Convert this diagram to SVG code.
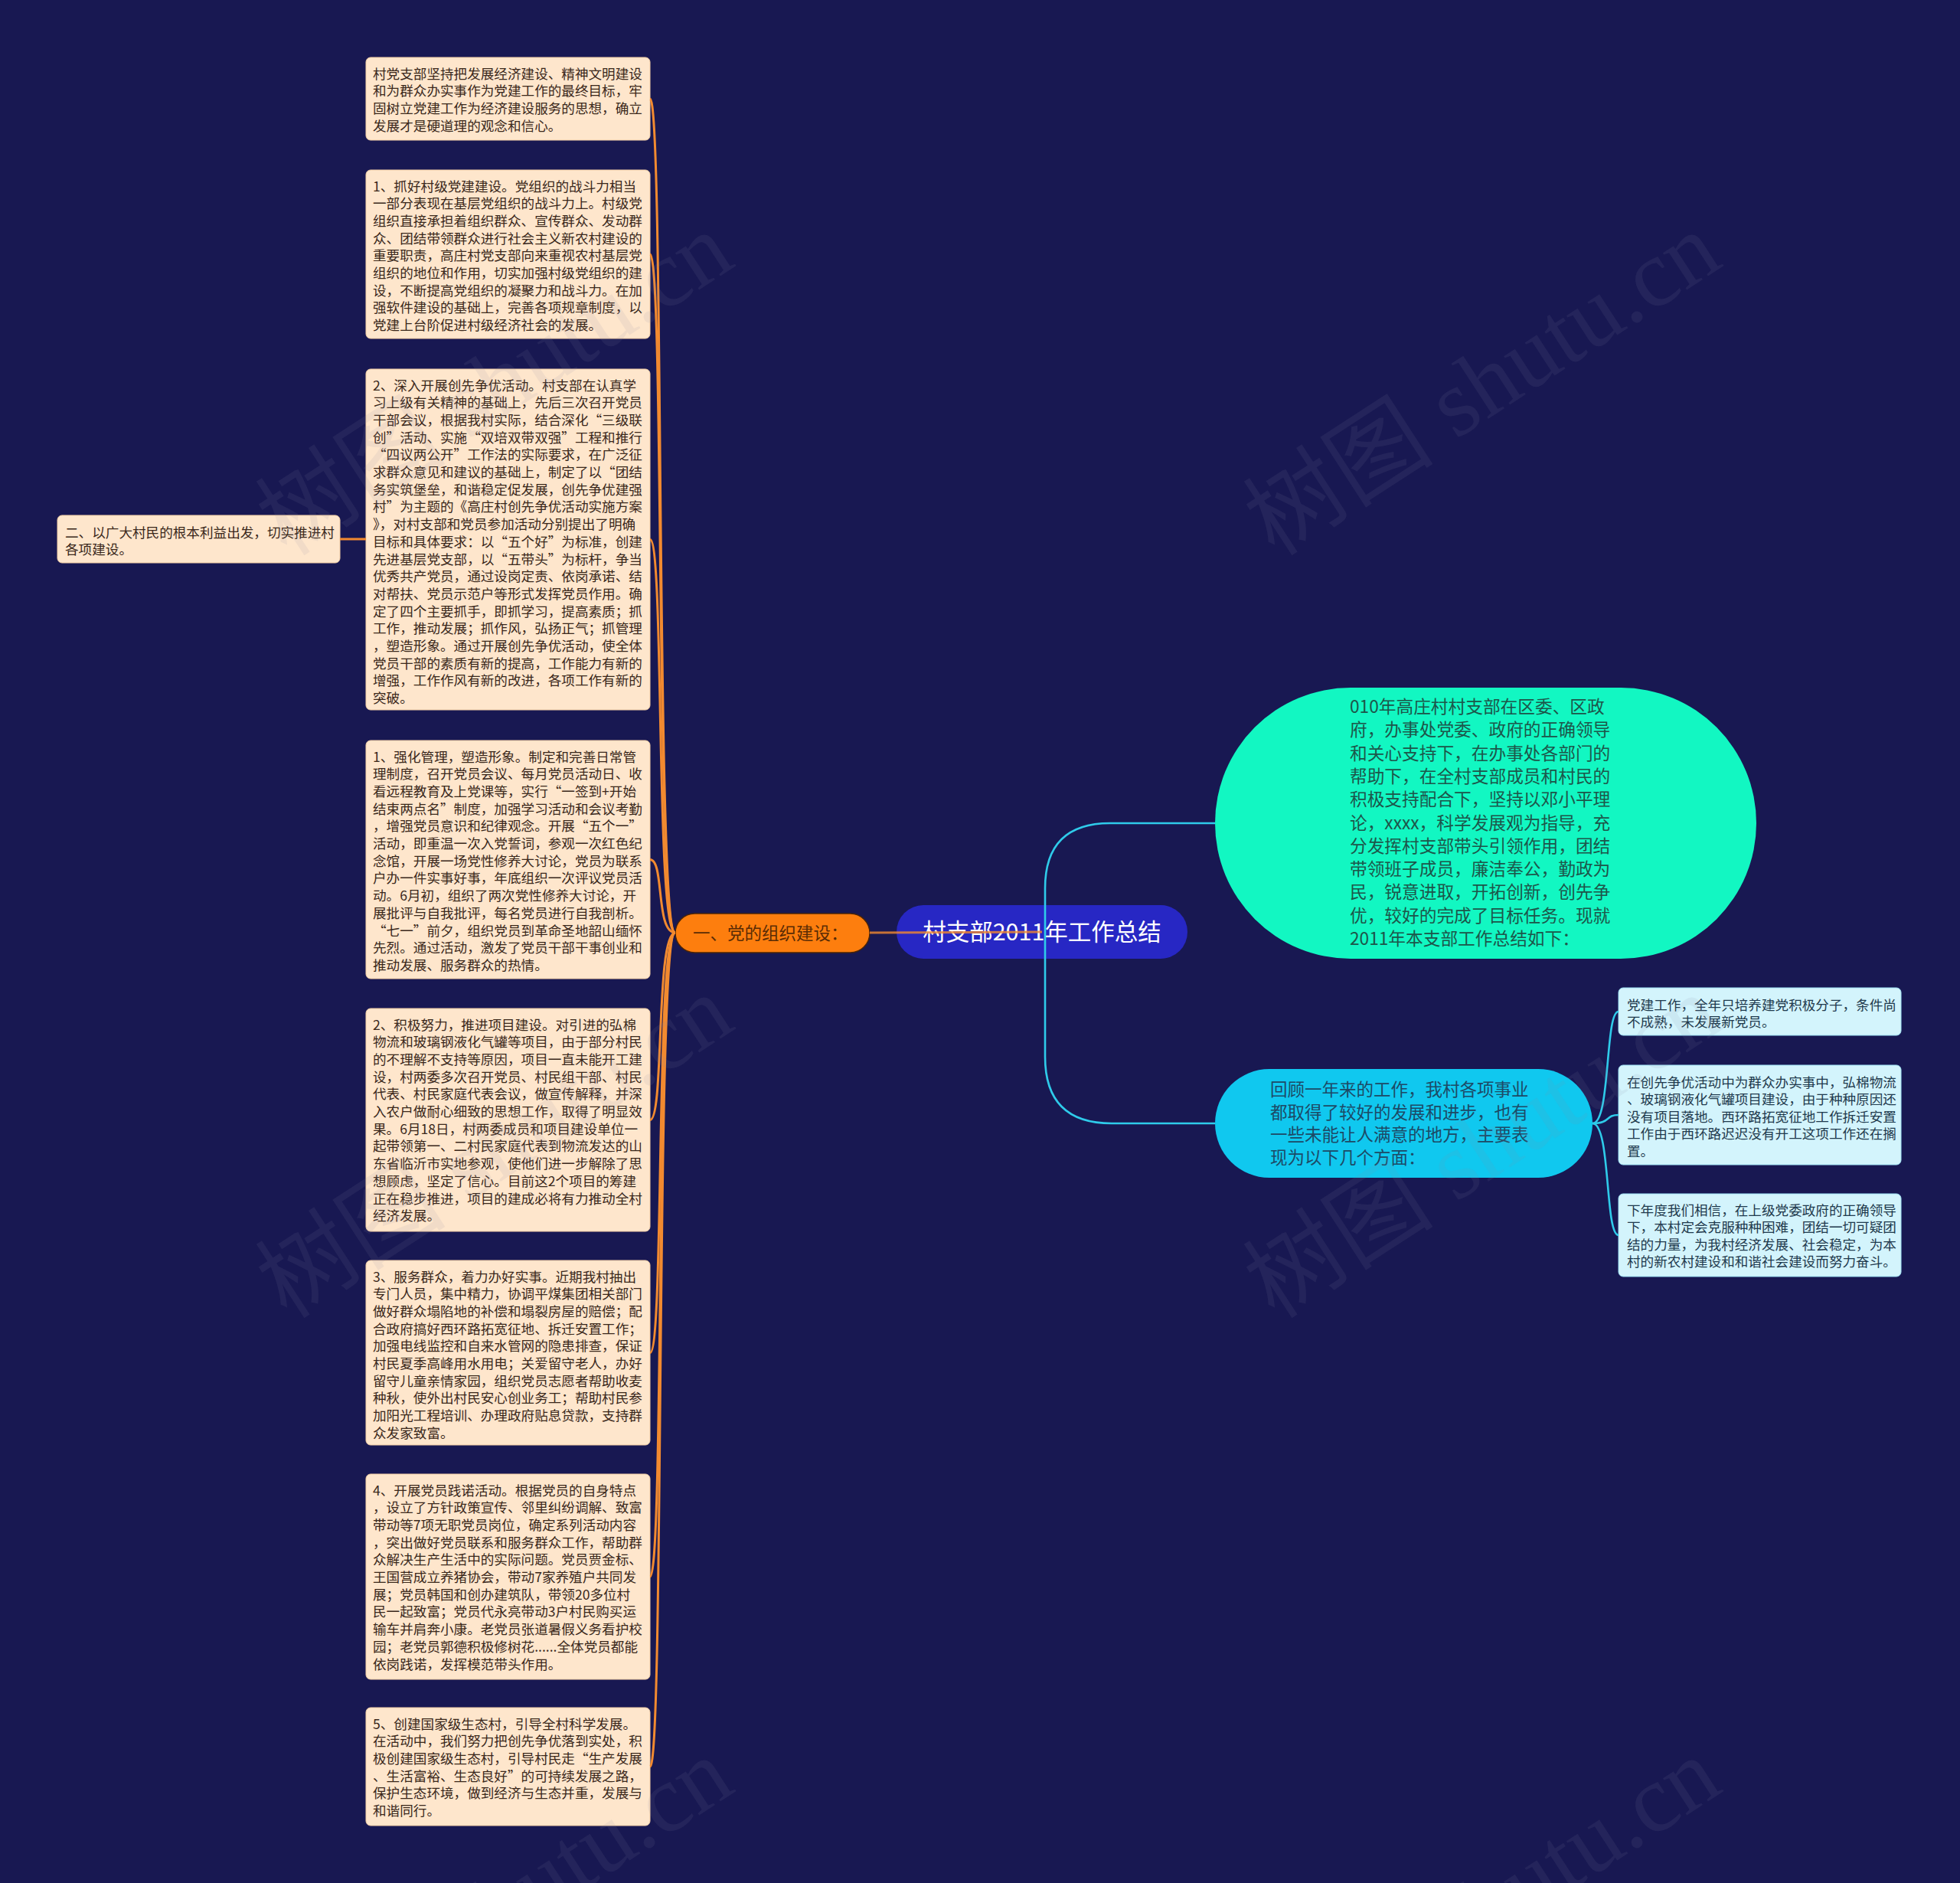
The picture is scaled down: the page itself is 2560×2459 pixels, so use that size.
<svg xmlns="http://www.w3.org/2000/svg" width="2560" height="2459" viewBox="0 0 2560 2459">
<style>
text{font-family:"Noto Sans CJK SC","Noto Sans",sans-serif}
.lb{fill:#fee6cc;stroke:#f3cfa6;stroke-width:1}
.lt{font-size:17.6px;fill:#3a281b}
.rb{fill:#d3f4fc;stroke:#9fe3f5;stroke-width:1}
.rt{font-size:17.6px;fill:#1f3a4d}
.oc{fill:none;stroke:#f28a30;stroke-width:3}
.cc{fill:none;stroke:#2fcbea;stroke-width:2.6}
.wm{font-family:"Liberation Serif","Noto Sans CJK SC",serif;font-size:125px;fill:#8a8aa8;fill-opacity:0.11}
</style>
<rect x="0" y="0" width="2560" height="2459" fill="#181852"/>
<g id="nodes">
<g id="root">
<rect x="1171" y="1182" width="380" height="70" rx="35" fill="#2727c4"/>
<text x="1361" y="1228" text-anchor="middle" font-size="30.5" fill="#ffffff">村支部2011年工作总结</text>
</g>
<g id="n-org">
<rect x="882" y="1193" width="254" height="51" rx="25.5" fill="#fd7e0e" stroke="#4a2408" stroke-width="1.5"/>
<text x="905" y="1226.5" font-size="22.5" fill="#5a2c05">一、党的组织建设：</text>
</g>
<g id="n-intro">
<rect x="1587" y="898" width="707" height="354" rx="177" fill="#12f7c2"/>
<text font-size="22.7" fill="#1d564a"><tspan x="1763" y="931">010年高庄村村支部在区委、区政</tspan><tspan x="1763" dy="30.3">府，办事处党委、政府的正确领导</tspan><tspan x="1763" dy="30.3">和关心支持下，在办事处各部门的</tspan><tspan x="1763" dy="30.3">帮助下，在全村支部成员和村民的</tspan><tspan x="1763" dy="30.3">积极支持配合下，坚持以邓小平理</tspan><tspan x="1763" dy="30.3">论，xxxx，科学发展观为指导，充</tspan><tspan x="1763" dy="30.3">分发挥村支部带头引领作用，团结</tspan><tspan x="1763" dy="30.3">带领班子成员，廉洁奉公，勤政为</tspan><tspan x="1763" dy="30.3">民，锐意进取，开拓创新，创先争</tspan><tspan x="1763" dy="30.3">优，较好的完成了目标任务。现就</tspan><tspan x="1763" dy="30.3">2011年本支部工作总结如下：</tspan></text>
</g>
<g id="n-review">
<rect x="1587" y="1396" width="493" height="142" rx="71" fill="#10c8ef"/>
<text font-size="22.5" fill="#1d4a66"><tspan x="1659" y="1431">回顾一年来的工作，我村各项事业</tspan><tspan x="1659" dy="29.7">都取得了较好的发展和进步，也有</tspan><tspan x="1659" dy="29.7">一些未能让人满意的地方，主要表</tspan><tspan x="1659" dy="29.7">现为以下几个方面：</tspan></text>
</g>
<g id="r1">
<rect class="rb" x="2114" y="1290" width="369" height="62" rx="6"/>
<text class="rt"><tspan x="2125" y="1318.5">党建工作，全年只培养建党积极分子，条件尚</tspan><tspan x="2125" dy="22.5">不成熟，未发展新党员。</tspan></text>
</g>
<g id="r2">
<rect class="rb" x="2114" y="1391" width="369" height="130" rx="6"/>
<text class="rt"><tspan x="2125" y="1419.5">在创先争优活动中为群众办实事中，弘棉物流</tspan><tspan x="2125" dy="22.5">、玻璃钢液化气罐项目建设，由于种种原因还</tspan><tspan x="2125" dy="22.5">没有项目落地。西环路拓宽征地工作拆迁安置</tspan><tspan x="2125" dy="22.5">工作由于西环路迟迟没有开工这项工作还在搁</tspan><tspan x="2125" dy="22.5">置。</tspan></text>
</g>
<g id="r3">
<rect class="rb" x="2114" y="1559" width="369" height="108" rx="6"/>
<text class="rt"><tspan x="2125" y="1586.5">下年度我们相信，在上级党委政府的正确领导</tspan><tspan x="2125" dy="22.5">下，本村定会克服种种困难，团结一切可疑团</tspan><tspan x="2125" dy="22.5">结的力量，为我村经济发展、社会稳定，为本</tspan><tspan x="2125" dy="22.5">村的新农村建设和和谐社会建设而努力奋斗。</tspan></text>
</g>
<g id="b1">
<rect class="lb" x="478" y="75" width="371" height="108" rx="6"/>
<text class="lt"><tspan x="487" y="102.5">村党支部坚持把发展经济建设、精神文明建设</tspan><tspan x="487" dy="22.7">和为群众办实事作为党建工作的最终目标，牢</tspan><tspan x="487" dy="22.7">固树立党建工作为经济建设服务的思想，确立</tspan><tspan x="487" dy="22.7">发展才是硬道理的观念和信心。</tspan></text>
</g>
<g id="b2">
<rect class="lb" x="478" y="222" width="371" height="220" rx="6"/>
<text class="lt"><tspan x="487" y="249.5">1、抓好村级党建建设。党组织的战斗力相当</tspan><tspan x="487" dy="22.7">一部分表现在基层党组织的战斗力上。村级党</tspan><tspan x="487" dy="22.7">组织直接承担着组织群众、宣传群众、发动群</tspan><tspan x="487" dy="22.7">众、团结带领群众进行社会主义新农村建设的</tspan><tspan x="487" dy="22.7">重要职责，高庄村党支部向来重视农村基层党</tspan><tspan x="487" dy="22.7">组织的地位和作用，切实加强村级党组织的建</tspan><tspan x="487" dy="22.7">设，不断提高党组织的凝聚力和战斗力。在加</tspan><tspan x="487" dy="22.7">强软件建设的基础上，完善各项规章制度，以</tspan><tspan x="487" dy="22.7">党建上台阶促进村级经济社会的发展。</tspan></text>
</g>
<g id="b3">
<rect class="lb" x="478" y="482" width="371" height="445" rx="6"/>
<text class="lt"><tspan x="487" y="509.5">2、深入开展创先争优活动。村支部在认真学</tspan><tspan x="487" dy="22.7">习上级有关精神的基础上，先后三次召开党员</tspan><tspan x="487" dy="22.7">干部会议，根据我村实际，结合深化“三级联</tspan><tspan x="487" dy="22.7">创”活动、实施“双培双带双强”工程和推行</tspan><tspan x="487" dy="22.7">“四议两公开”工作法的实际要求，在广泛征</tspan><tspan x="487" dy="22.7">求群众意见和建议的基础上，制定了以“团结</tspan><tspan x="487" dy="22.7">务实筑堡垒，和谐稳定促发展，创先争优建强</tspan><tspan x="487" dy="22.7">村”为主题的《高庄村创先争优活动实施方案</tspan><tspan x="487" dy="22.7">》，对村支部和党员参加活动分别提出了明确</tspan><tspan x="487" dy="22.7">目标和具体要求：以“五个好”为标准，创建</tspan><tspan x="487" dy="22.7">先进基层党支部，以“五带头”为标杆，争当</tspan><tspan x="487" dy="22.7">优秀共产党员，通过设岗定责、依岗承诺、结</tspan><tspan x="487" dy="22.7">对帮扶、党员示范户等形式发挥党员作用。确</tspan><tspan x="487" dy="22.7">定了四个主要抓手，即抓学习，提高素质；抓</tspan><tspan x="487" dy="22.7">工作，推动发展；抓作风，弘扬正气；抓管理</tspan><tspan x="487" dy="22.7">，塑造形象。通过开展创先争优活动，使全体</tspan><tspan x="487" dy="22.7">党员干部的素质有新的提高，工作能力有新的</tspan><tspan x="487" dy="22.7">增强，工作作风有新的改进，各项工作有新的</tspan><tspan x="487" dy="22.7">突破。</tspan></text>
</g>
<g id="n-two">
<rect class="lb" x="75" y="673" width="369" height="62" rx="6"/>
<text class="lt"><tspan x="85" y="701.5">二、以广大村民的根本利益出发，切实推进村</tspan><tspan x="85" dy="22">各项建设。</tspan></text>
</g>
<g id="b4">
<rect class="lb" x="478" y="967" width="371" height="311" rx="6"/>
<text class="lt"><tspan x="487" y="994.5">1、强化管理，塑造形象。制定和完善日常管</tspan><tspan x="487" dy="22.7">理制度，召开党员会议、每月党员活动日、收</tspan><tspan x="487" dy="22.7">看远程教育及上党课等，实行“一签到+开始</tspan><tspan x="487" dy="22.7">结束两点名”制度，加强学习活动和会议考勤</tspan><tspan x="487" dy="22.7">，增强党员意识和纪律观念。开展“五个一”</tspan><tspan x="487" dy="22.7">活动，即重温一次入党誓词，参观一次红色纪</tspan><tspan x="487" dy="22.7">念馆，开展一场党性修养大讨论，党员为联系</tspan><tspan x="487" dy="22.7">户办一件实事好事，年底组织一次评议党员活</tspan><tspan x="487" dy="22.7">动。6月初，组织了两次党性修养大讨论，开</tspan><tspan x="487" dy="22.7">展批评与自我批评，每名党员进行自我剖析。</tspan><tspan x="487" dy="22.7">“七一”前夕，组织党员到革命圣地韶山缅怀</tspan><tspan x="487" dy="22.7">先烈。通过活动，激发了党员干部干事创业和</tspan><tspan x="487" dy="22.7">推动发展、服务群众的热情。</tspan></text>
</g>
<g id="b5">
<rect class="lb" x="478" y="1317" width="371" height="291" rx="6"/>
<text class="lt"><tspan x="487" y="1344.5">2、积极努力，推进项目建设。对引进的弘棉</tspan><tspan x="487" dy="22.7">物流和玻璃钢液化气罐等项目，由于部分村民</tspan><tspan x="487" dy="22.7">的不理解不支持等原因，项目一直未能开工建</tspan><tspan x="487" dy="22.7">设，村两委多次召开党员、村民组干部、村民</tspan><tspan x="487" dy="22.7">代表、村民家庭代表会议，做宣传解释，并深</tspan><tspan x="487" dy="22.7">入农户做耐心细致的思想工作，取得了明显效</tspan><tspan x="487" dy="22.7">果。6月18日，村两委成员和项目建设单位一</tspan><tspan x="487" dy="22.7">起带领第一、二村民家庭代表到物流发达的山</tspan><tspan x="487" dy="22.7">东省临沂市实地参观，使他们进一步解除了思</tspan><tspan x="487" dy="22.7">想顾虑，坚定了信心。目前这2个项目的筹建</tspan><tspan x="487" dy="22.7">正在稳步推进，项目的建成必将有力推动全村</tspan><tspan x="487" dy="22.7">经济发展。</tspan></text>
</g>
<g id="b6">
<rect class="lb" x="478" y="1646" width="371" height="241" rx="6"/>
<text class="lt"><tspan x="487" y="1673.5">3、服务群众，着力办好实事。近期我村抽出</tspan><tspan x="487" dy="22.7">专门人员，集中精力，协调平煤集团相关部门</tspan><tspan x="487" dy="22.7">做好群众塌陷地的补偿和塌裂房屋的赔偿；配</tspan><tspan x="487" dy="22.7">合政府搞好西环路拓宽征地、拆迁安置工作；</tspan><tspan x="487" dy="22.7">加强电线监控和自来水管网的隐患排查，保证</tspan><tspan x="487" dy="22.7">村民夏季高峰用水用电；关爱留守老人，办好</tspan><tspan x="487" dy="22.7">留守儿童亲情家园，组织党员志愿者帮助收麦</tspan><tspan x="487" dy="22.7">种秋，使外出村民安心创业务工；帮助村民参</tspan><tspan x="487" dy="22.7">加阳光工程培训、办理政府贴息贷款，支持群</tspan><tspan x="487" dy="22.7">众发家致富。</tspan></text>
</g>
<g id="b7">
<rect class="lb" x="478" y="1925" width="371" height="268" rx="6"/>
<text class="lt"><tspan x="487" y="1952.5">4、开展党员践诺活动。根据党员的自身特点</tspan><tspan x="487" dy="22.7">，设立了方针政策宣传、邻里纠纷调解、致富</tspan><tspan x="487" dy="22.7">带动等7项无职党员岗位，确定系列活动内容</tspan><tspan x="487" dy="22.7">，突出做好党员联系和服务群众工作，帮助群</tspan><tspan x="487" dy="22.7">众解决生产生活中的实际问题。党员贾金标、</tspan><tspan x="487" dy="22.7">王国营成立养猪协会，带动7家养殖户共同发</tspan><tspan x="487" dy="22.7">展；党员韩国和创办建筑队，带领20多位村</tspan><tspan x="487" dy="22.7">民一起致富；党员代永亮带动3户村民购买运</tspan><tspan x="487" dy="22.7">输车并肩奔小康。老党员张道暑假义务看护校</tspan><tspan x="487" dy="22.7">园；老党员郭德积极修树花......全体党员都能</tspan><tspan x="487" dy="22.7">依岗践诺，发挥模范带头作用。</tspan></text>
</g>
<g id="b8">
<rect class="lb" x="478" y="2230" width="371" height="154" rx="6"/>
<text class="lt"><tspan x="487" y="2257.5">5、创建国家级生态村，引导全村科学发展。</tspan><tspan x="487" dy="22.7">在活动中，我们努力把创先争优落到实处，积</tspan><tspan x="487" dy="22.7">极创建国家级生态村，引导村民走“生产发展</tspan><tspan x="487" dy="22.7">、生活富裕、生态良好”的可持续发展之路，</tspan><tspan x="487" dy="22.7">保护生态环境，做到经济与生态并重，发展与</tspan><tspan x="487" dy="22.7">和谐同行。</tspan></text>
</g>
</g>
<g id="connectors">
<path class="oc" d="M1136 1218 L1361 1217" stroke-opacity="0.8"/>
<path class="oc" d="M882 1218 C856 1218 868 129 849 129"/>
<path class="oc" d="M882 1218 C856 1218 868 332 849 332"/>
<path class="oc" d="M882 1218 C856 1218 868 704.5 849 704.5"/>
<path class="oc" d="M882 1218 C856 1218 868 1122.5 849 1122.5"/>
<path class="oc" d="M882 1218 C856 1218 868 1462.5 849 1462.5"/>
<path class="oc" d="M882 1218 C856 1218 868 1766.5 849 1766.5"/>
<path class="oc" d="M882 1218 C856 1218 868 2059 849 2059"/>
<path class="oc" d="M882 1218 C856 1218 868 2307 849 2307"/>
<path class="oc" d="M478 704 L444 704"/>
<path class="cc" d="M1365 1217 L1365 1160 Q1365 1075 1450 1075 L1587 1075"/>
<path class="cc" d="M1365 1217 L1365 1380 Q1365 1467 1452 1467 L1587 1467"/>
<path class="cc" d="M2080 1467 C2104 1467 2096 1321 2114 1321"/>
<path class="cc" d="M2080 1467 C2104 1467 2096 1456 2114 1456"/>
<path class="cc" d="M2080 1467 C2104 1467 2096 1613 2114 1613"/>
</g>
<g id="watermarks">
<text class="wm" x="375" y="728" transform="rotate(-33 375 728)">树图 shutu.cn</text>
<text class="wm" x="1665" y="728" transform="rotate(-33 1665 728)">树图 shutu.cn</text>
<text class="wm" x="375" y="1724" transform="rotate(-33 375 1724)">树图 shutu.cn</text>
<text class="wm" x="1665" y="1724" transform="rotate(-33 1665 1724)">树图 shutu.cn</text>
<text class="wm" x="375" y="2720" transform="rotate(-33 375 2720)">树图 shutu.cn</text>
<text class="wm" x="1665" y="2720" transform="rotate(-33 1665 2720)">树图 shutu.cn</text>
</g>
</svg>
